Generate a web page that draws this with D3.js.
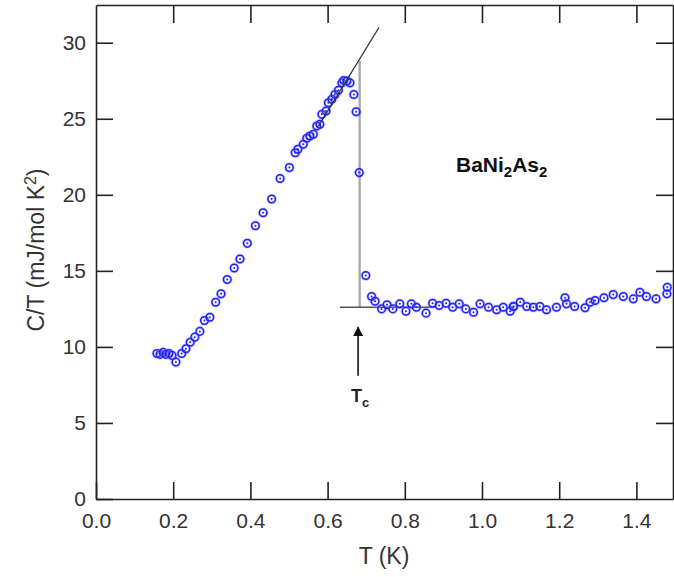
<!DOCTYPE html>
<html><head><meta charset="utf-8">
<script src="https://cdn.jsdelivr.net/npm/d3@7"></script>
<style>body{margin:0;background:#fff}svg{display:block}text{font-family:"Liberation Sans",Arial,Helvetica,sans-serif}</style>
</head><body>
<svg id="c" width="674" height="577"></svg>
<script>
const temps = [0.158,0.166,0.174,0.181,0.189,0.197,0.207,0.222,0.233,0.244,0.256,0.269,0.281,0.295,0.310,0.324,0.340,0.358,0.373,0.392,0.413,0.433,0.455,0.477,0.501,0.516,0.523,0.537,0.546,0.554,0.563,0.572,0.580,0.585,0.596,0.602,0.611,0.619,0.628,0.637,0.642,0.650,0.658,0.668,0.674,0.682,0.699,0.714,0.723,0.740,0.754,0.769,0.787,0.803,0.817,0.830,0.855,0.872,0.889,0.907,0.924,0.941,0.958,0.978,0.995,1.017,1.038,1.055,1.073,1.082,1.081,1.099,1.116,1.133,1.150,1.167,1.193,1.215,1.219,1.240,1.267,1.280,1.293,1.316,1.340,1.366,1.392,1.409,1.426,1.451,1.479,1.480];
const cOverT = [9.57,9.51,9.64,9.51,9.57,9.44,9.0,9.57,9.88,10.31,10.64,11.02,11.74,11.95,12.94,13.49,14.43,15.19,15.78,16.81,17.97,18.82,19.72,21.07,21.79,22.77,23.0,23.32,23.72,23.87,23.98,24.52,24.64,25.29,25.51,26.05,26.28,26.6,26.87,27.36,27.52,27.48,27.36,26.6,25.46,21.46,14.69,13.31,13.0,12.5,12.77,12.5,12.83,12.35,12.83,12.61,12.22,12.87,12.72,12.87,12.61,12.83,12.5,12.28,12.83,12.61,12.44,12.61,12.35,12.66,12.66,12.94,12.66,12.61,12.66,12.44,12.61,13.23,12.83,12.66,12.57,12.94,13.05,13.23,13.44,13.31,13.16,13.59,13.31,13.16,13.49,13.92];
const xTicks = [0.0,0.2,0.4,0.6,0.8,1.0,1.2,1.4];
const yTicks = [0,5,10,15,20,25,30];
const fitLine = [[0.576,24.5],[0.733,31.0]];
const tcVertical = [[0.683,12.6],[0.683,28.8]];
const baseline = [[0.632,12.6],[0.883,12.6]];
const tcArrow = [[0.679,8.1],[0.679,11.3]];

const svg = d3.select("#c");
const x = d3.scaleLinear().domain([0,1.4948]).range([96,673]);
const y = d3.scaleLinear().domain([0,32.48]).range([499,5]);
const axisCol = "#222";
const textCol = "#333";

function styleAxis(g){
  g.select(".domain").attr("stroke",axisCol).attr("stroke-width",1.6);
  g.selectAll(".tick line").attr("stroke",axisCol).attr("stroke-width",1.6);
  g.selectAll(".tick text").attr("fill",textCol).style("font-size","21px");
}
svg.append("g").attr("transform","translate(0,499)")
  .call(d3.axisTop(x).tickValues(xTicks).tickSize(17).tickPadding(-46).tickFormat(d3.format(".1f")).tickSizeOuter(0))
  .call(styleAxis);
svg.append("g").attr("transform","translate(0,5)")
  .call(d3.axisBottom(x).tickValues(xTicks.slice(1)).tickSize(18).tickFormat("").tickSizeOuter(0))
  .call(styleAxis);
svg.append("g").attr("transform","translate(96,0)")
  .call(d3.axisRight(y).tickValues(yTicks).tickSize(17).tickPadding(-27).tickFormat(d3.format("d")).tickSizeOuter(0))
  .call(styleAxis)
  .call(g=>g.selectAll(".tick text").attr("text-anchor","end"));
svg.append("g").attr("transform","translate(673,0)")
  .call(d3.axisLeft(y).tickValues(yTicks.slice(1)).tickSize(17).tickFormat("").tickSizeOuter(0))
  .call(styleAxis);

const line = d3.line().x(d=>x(d[0])).y(d=>y(d[1]));
svg.append("path").attr("d",line(tcVertical)).attr("stroke","#aaa").attr("stroke-width",2.4).attr("fill","none");
svg.append("path").attr("d",line(baseline)).attr("stroke","#555").attr("stroke-width",1.5).attr("fill","none");

const pts = svg.append("g");
temps.forEach((t,i)=>{
  const cx = x(t), cy = y(cOverT[i]);
  pts.append("circle").attr("cx",cx).attr("cy",cy).attr("r",3.8)
    .attr("fill","none").attr("stroke","#8a8aff").attr("stroke-opacity",0.35).attr("stroke-width",3.2);
  pts.append("circle").attr("cx",cx).attr("cy",cy).attr("r",3.8)
    .attr("fill","none").attr("stroke","#1f1ff2").attr("stroke-width",1.5);
  pts.append("circle").attr("cx",cx).attr("cy",cy).attr("r",1).attr("fill","#1f1ff2");
});
svg.append("path").attr("d",line(fitLine)).attr("stroke","#333").attr("stroke-width",1.3).attr("fill","none");

svg.append("defs").append("marker").attr("id","ah").attr("viewBox","0 0 10 10").attr("refX",9).attr("refY",5)
  .attr("markerWidth",10).attr("markerHeight",11).attr("markerUnits","userSpaceOnUse").attr("orient","auto")
  .append("path").attr("d","M0,0 L10,5 L0,10 Z").attr("fill","#111");
svg.append("path").attr("d",line(tcArrow)).attr("stroke","#111").attr("stroke-width",1.6).attr("marker-end","url(#ah)");

const tc = svg.append("text").attr("x",x(0.679)+2).attr("y",402).attr("text-anchor","middle")
  .attr("fill","#222").style("font-size","18px").style("font-weight","bold");
tc.append("tspan").text("T");
tc.append("tspan").attr("dy",5).style("font-size","13px").text("c");

const lab = svg.append("text").attr("x",456).attr("y",172).attr("fill","#111").style("font-size","21px").style("font-weight","bold");
lab.append("tspan").text("BaNi");
lab.append("tspan").attr("dy",5).style("font-size","15px").text("2");
lab.append("tspan").attr("dy",-5).text("As");
lab.append("tspan").attr("dy",5).style("font-size","15px").text("2");

svg.append("text").attr("x",384).attr("y",564).attr("text-anchor","middle").attr("fill",textCol).style("font-size","23px").text("T (K)");
const yl = svg.append("text").attr("transform","translate(44,250) rotate(-90)").attr("text-anchor","middle").attr("fill",textCol).style("font-size","23px");
yl.append("tspan").text("C/T (mJ/mol K");
yl.append("tspan").attr("dy",-8).style("font-size","16px").text("2");
yl.append("tspan").attr("dy",8).text(")");
</script>
</body></html>
